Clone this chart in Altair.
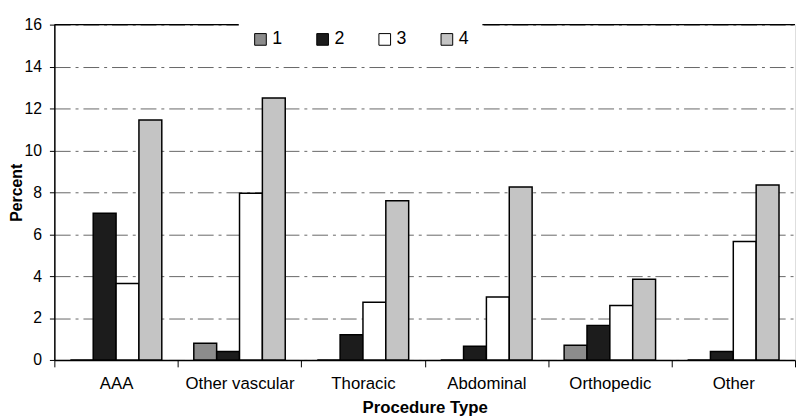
import altair as alt
import pandas as pd

categories = ["AAA", "Other vascular", "Thoracic", "Abdominal", "Orthopedic", "Other"]
series = ["1", "2", "3", "4"]
s1 = [0.0, 0.8, 0.0, 0.0, 0.7, 0.0]
s2 = [7.0, 0.4, 1.2, 0.65, 1.65, 0.4]
s3 = [3.65, 7.95, 2.75, 3.0, 2.6, 5.65]
s4 = [11.45, 12.5, 7.6, 8.25, 3.85, 8.35]
colors = ["#8c8c8c", "#1c1c1c", "#ffffff", "#c4c4c4"]

rows = []
for name, vals in zip(series, [s1, s2, s3, s4]):
    for c, v in zip(categories, vals):
        rows.append({"category": c, "series": name, "value": v})
df = pd.DataFrame(rows)

FONT = "Liberation Sans"

bars = alt.Chart(df).mark_bar(stroke="black", strokeWidth=1.5).encode(
    x=alt.X("category:N", sort=categories,
            scale=alt.Scale(paddingInner=0, paddingOuter=0),
            axis=alt.Axis(title="Procedure Type", labelAngle=0, tickBand="extent",
                          domainColor="black", tickColor="black", tickSize=7,
                          labelFontSize=17, labelPadding=9, titleFontSize=17,
                          titleFontWeight="bold", titlePadding=8, grid=False,
                          labelColor="black", titleColor="black", domainWidth=1.5)),
    xOffset=alt.XOffset("series:N", sort=series,
                        scale=alt.Scale(paddingInner=0, paddingOuter=0.7)),
    y=alt.Y("value:Q", scale=alt.Scale(domain=[0, 16], nice=False),
            axis=alt.Axis(title="Percent", values=list(range(0, 17, 2)),
                          domainColor="black", tickColor="black", tickSize=5,
                          labelFontSize=16, labelPadding=8, titleFontSize=16,
                          titleFontWeight="bold", titlePadding=0,
                          labelColor="black", titleColor="black",
                          grid=True, gridColor="#666666", gridDash=[16, 5, 3, 5],
                          gridWidth=1, domainWidth=1.5)),
    color=alt.Color("series:N", sort=series,
                    scale=alt.Scale(domain=series, range=colors),
                    legend=alt.Legend(title=None, orient="none", direction="horizontal",
                                      legendX=187, legendY=-7, fillColor="white",
                                      padding=13, columnPadding=31, symbolType="square",
                                      symbolSize=140, symbolStrokeColor="black",
                                      symbolStrokeWidth=1, labelFontSize=18,
                                      labelColor="black", labelOffset=3)),
)

top = alt.Chart(pd.DataFrame({"v": [16]})).mark_rule(color="black", strokeWidth=1.5).encode(
    y=alt.Y("v:Q")
)

chart = alt.layer(top, bars).properties(
    width=751, height=340,
    padding={"left": 0, "top": 6, "right": 0, "bottom": 0},
).configure_view(stroke=None).configure(font=FONT)

chart.save("out.html", embed_options={"renderer": "svg", "actions": False})
